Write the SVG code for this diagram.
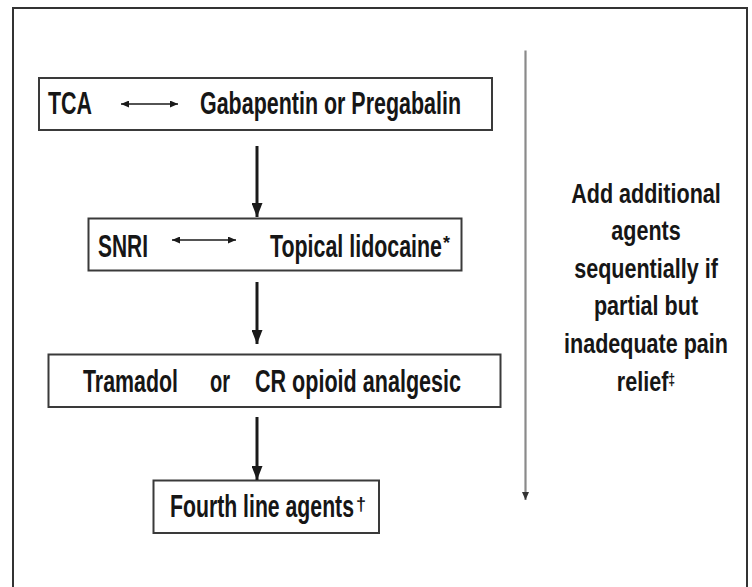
<svg xmlns="http://www.w3.org/2000/svg" width="752" height="587" viewBox="0 0 752 587">
<style>
  .frame { fill: #ffffff; stroke: #333333; stroke-width: 2; }
  .box { fill: #ffffff; stroke: #3a3a3a; stroke-width: 2; }
  .t { font-family: "Liberation Sans", Arial, sans-serif; font-weight: bold; font-size: 32px; fill: #161616; }
  .note { font-family: "Liberation Sans", Arial, sans-serif; font-weight: bold; font-size: 28px; fill: #161616; }
  .sup { font-family: "Liberation Sans", Arial, sans-serif; font-weight: bold; font-size: 18px; fill: #161616; }
  .flow { stroke: #1a1a1a; stroke-width: 3; fill: none; }
  .dbl { stroke: #1a1a1a; stroke-width: 1.5; fill: none; }
  .side { stroke: #8a8a8a; stroke-width: 2.2; fill: none; }
</style>
<defs>
  <marker id="ah" markerUnits="userSpaceOnUse" markerWidth="14" markerHeight="11" refX="14" refY="5.5" orient="auto">
    <path d="M0,0 L14,5.5 L0,11 z" fill="#1a1a1a"/>
  </marker>
  <marker id="ahs" markerUnits="userSpaceOnUse" markerWidth="8" markerHeight="7" refX="8" refY="3.5" orient="auto-start-reverse">
    <path d="M0,0 L8,3.5 L0,7 z" fill="#1a1a1a"/>
  </marker>
  <marker id="ahg" markerUnits="userSpaceOnUse" markerWidth="8" markerHeight="7" refX="8" refY="3.5" orient="auto">
    <path d="M0,0 L8,3.5 L0,7 z" fill="#333333"/>
  </marker>
</defs>

<rect x="0" y="0" width="752" height="587" fill="#ffffff"/>
<rect id="frame" class="frame" x="13" y="8" width="734" height="600"/>

<g id="node-tca">
  <rect class="box" x="39" y="78" width="453" height="52"/>
  <text class="t" transform="translate(48 114) scale(0.67 1)" x="0" y="0" textLength="65.7" lengthAdjust="spacingAndGlyphs">TCA</text>
  <text class="t" transform="translate(200 114) scale(0.67 1)" x="0" y="0" textLength="389.6" lengthAdjust="spacingAndGlyphs">Gabapentin or Pregabalin</text>
</g>

<g id="node-snri">
  <rect class="box" x="88.5" y="218.5" width="373" height="52"/>
  <text class="t" transform="translate(98 257) scale(0.67 1)" x="0" y="0" textLength="74.6" lengthAdjust="spacingAndGlyphs">SNRI</text>
  <text class="t" transform="translate(270 257) scale(0.67 1)" x="0" y="0" textLength="256.7" lengthAdjust="spacingAndGlyphs">Topical lidocaine</text>
  <text class="sup" x="443" y="249">*</text>
</g>

<g id="node-tramadol">
  <rect class="box" x="48.5" y="354.5" width="452" height="52.5"/>
  <text class="t" transform="translate(83 392) scale(0.67 1)" x="0" y="0" textLength="141.8" lengthAdjust="spacingAndGlyphs">Tramadol</text>
  <text class="t" transform="translate(210 392) scale(0.67 1)" x="0" y="0" textLength="29.9" lengthAdjust="spacingAndGlyphs">or</text>
  <text class="t" transform="translate(255 392) scale(0.67 1)" x="0" y="0" textLength="307.5" lengthAdjust="spacingAndGlyphs">CR opioid analgesic</text>
</g>

<g id="node-fourth">
  <rect class="box" x="153.5" y="480.5" width="225.5" height="52.5"/>
  <text class="t" transform="translate(170 517) scale(0.67 1)" x="0" y="0" textLength="274.6" lengthAdjust="spacingAndGlyphs">Fourth line agents</text>
  <text class="sup" x="356" y="510" font-weight="normal">†</text>
</g>

<g id="node-note" transform="translate(646 0) scale(0.77 1)">
  <text class="note" x="0" y="202.7" text-anchor="middle">Add additional</text>
  <text class="note" x="0" y="240.3" text-anchor="middle">agents</text>
  <text class="note" x="0" y="277.9" text-anchor="middle">sequentially if</text>
  <text class="note" x="0" y="315.5" text-anchor="middle">partial but</text>
  <text class="note" x="0" y="353.1" text-anchor="middle">inadequate pain</text>
  <text class="note" x="0" y="390.7" text-anchor="middle">relief<tspan font-size="16" dy="-6">‡</tspan></text>
</g>

<g id="connectors">
  <line class="flow" x1="257" y1="146" x2="257" y2="217" marker-end="url(#ah)"/>
  <line class="flow" x1="257" y1="282" x2="257" y2="344" marker-end="url(#ah)"/>
  <line class="flow" x1="257" y1="417" x2="257" y2="480" marker-end="url(#ah)"/>
  <line class="dbl" x1="121" y1="104" x2="178" y2="104" marker-start="url(#ahs)" marker-end="url(#ahs)"/>
  <line class="dbl" x1="172" y1="240" x2="236" y2="240" marker-start="url(#ahs)" marker-end="url(#ahs)"/>
  <line class="side" x1="525.5" y1="50.5" x2="525.5" y2="500" marker-end="url(#ahg)"/>
</g>
</svg>
